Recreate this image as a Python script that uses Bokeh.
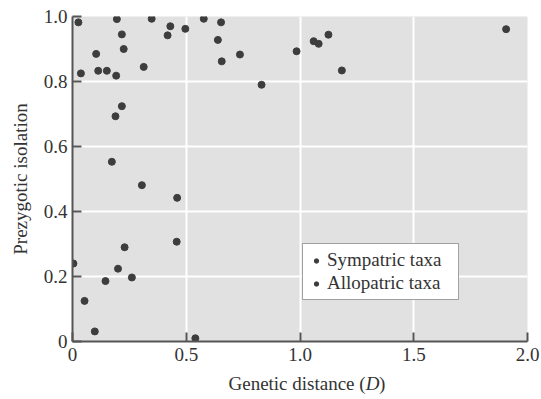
from bokeh.plotting import figure
from bokeh.models import FixedTicker, Label, Legend, LegendItem, Range1d
from bokeh.embed import file_html
from bokeh.resources import INLINE

# ---- data ----
genetic_distance = [
    0.026, 0.037, 0.195, 0.348, 0.430, 0.418, 0.496, 0.577, 0.653, 0.217,
    0.104, 0.225, 0.113, 0.151, 0.192, 0.313, 0.639, 0.656, 0.736, 0.831,
    0.217, 0.189, 0.173, 0.305, 0.460, 0.985, 1.060, 1.082, 1.125, 1.184,
    1.906, 0.004, 0.053, 0.098, 0.145, 0.200, 0.229, 0.261, 0.458, 0.540,
]
prezygotic_isolation = [
    0.982, 0.825, 0.992, 0.993, 0.970, 0.942, 0.962, 0.993, 0.982, 0.945,
    0.885, 0.900, 0.833, 0.833, 0.818, 0.845, 0.928, 0.862, 0.883, 0.790,
    0.724, 0.693, 0.553, 0.481, 0.442, 0.893, 0.924, 0.916, 0.944, 0.834,
    0.961, 0.240, 0.125, 0.031, 0.186, 0.224, 0.290, 0.197, 0.307, 0.010,
]
x_ticks = [0, 0.5, 1.0, 1.5, 2.0]
x_tick_labels = ["0", "0.5", "1.0", "1.5", "2.0"]
y_ticks = [0, 0.2, 0.4, 0.6, 0.8, 1.0]
y_tick_labels = ["0", "0.2", "0.4", "0.6", "0.8", "1.0"]
legend_labels = ["Sympatric taxa", "Allopatric taxa"]

FONT = "Liberation Serif"
TXT = "#333333"
DOT = "#3d3d3d"

p = figure(
    width=541, height=396,
    x_range=Range1d(0, 2), y_range=Range1d(0, 1),
    output_backend="svg", toolbar_location=None,
    min_border_left=72, min_border_right=11, min_border_top=16, min_border_bottom=55,
    background_fill_color="#e1e1e1", border_fill_color="white",
    outline_line_color=None,
)

# grid
p.xgrid.ticker = FixedTicker(ticks=x_ticks)
p.ygrid.ticker = FixedTicker(ticks=y_ticks)
for g in (p.xgrid, p.ygrid):
    g.grid_line_color = "white"
    g.grid_line_width = 2

# axes
p.xaxis.ticker = FixedTicker(ticks=x_ticks)
p.yaxis.ticker = FixedTicker(ticks=y_ticks)
p.xaxis.major_label_overrides = dict(zip(x_ticks, x_tick_labels))
p.yaxis.major_label_overrides = dict(zip(y_ticks, y_tick_labels))
for ax in (p.xaxis, p.yaxis):
    ax.axis_line_color = "#555555"
    ax.axis_line_width = 2
    ax.major_tick_line_color = "#555555"
    ax.major_tick_line_width = 2
    ax.major_tick_in = 9
    ax.major_tick_out = 0
    ax.minor_tick_line_color = None
    ax.major_label_text_font = FONT
    ax.major_label_text_font_size = "19px"
    ax.major_label_text_color = TXT
p.xaxis.major_label_standoff = 6
p.yaxis.major_label_standoff = 5

p.yaxis.axis_label = "Prezygotic isolation"
p.yaxis.axis_label_text_font = FONT
p.yaxis.axis_label_text_font_size = "19px"
p.yaxis.axis_label_text_font_style = "normal"
p.yaxis.axis_label_text_color = TXT
p.yaxis.axis_label_standoff = 10

r = p.scatter(genetic_distance, prezygotic_isolation, size=7,
              fill_color=DOT, line_color=DOT)

# x-axis title (with italic D); the pieces sit in side panels so they are not clipped
title_y = -0.129
parts = [("Genetic distance (", 1.2885, "right", "normal", "below"),
         ("D", 1.2885, "left", "italic", "right"),
         (")", 1.347, "left", "normal", "left")]
for txt, xpos, align, style, side in parts:
    p.add_layout(Label(x=xpos, y=title_y, text=txt, text_align=align,
                       text_baseline="alphabetic", text_font=FONT,
                       text_font_style=style, text_font_size="19px",
                       text_color=TXT), side)

legend = Legend(
    items=[LegendItem(label=legend_labels[0], renderers=[r]),
           LegendItem(label=legend_labels[1], renderers=[r])],
    location=(230, 41),
    label_text_font=FONT, label_text_font_size="19px", label_text_color=TXT,
    glyph_width=16, glyph_height=11, label_standoff=3, label_height=20,
    label_width=126, padding=5, spacing=1, margin=0,
    border_line_color="#444444", border_line_width=1.5,
    background_fill_color="white", background_fill_alpha=1,
)
p.add_layout(legend)

open("out.html", "w").write(file_html(p, INLINE))
